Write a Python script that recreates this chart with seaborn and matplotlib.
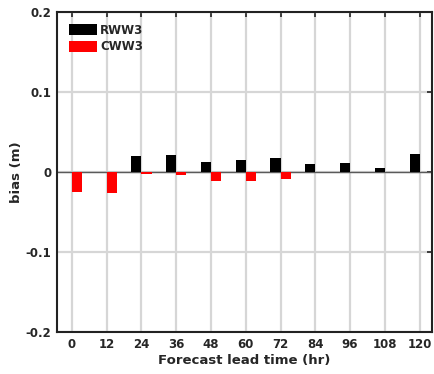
import matplotlib
matplotlib.use('Agg')
import matplotlib.pyplot as plt
import pandas as pd
import seaborn as sns

# Forecast lead times (hr) and bias values
lead_times = [0, 12, 24, 36, 48, 60, 72, 84, 96, 108, 120]
rww3_bias = [0.0, 0.0, 0.020, 0.021, 0.013, 0.015, 0.0175, 0.0095, 0.011, 0.005, 0.023]
cww3_bias = [-0.025, -0.026, -0.003, -0.004, -0.011, -0.011, -0.009, 0.0, 0.0, 0.0, 0.0]
models = ['RWW3', 'CWW3']
y_ticks = [-0.2, -0.1, 0, 0.1, 0.2]
y_tick_labels = ['-0.2', '-0.1', '0', '0.1', '0.2']

df = pd.DataFrame({
    'lead': lead_times * 2,
    'bias': rww3_bias + cww3_bias,
    'model': ['RWW3'] * len(lead_times) + ['CWW3'] * len(lead_times),
})

sns.set_style('white')
plt.rcParams['font.family'] = ['DejaVu Sans']
plt.rcParams['font.weight'] = 'bold'

fig = plt.figure(figsize=(4.34, 3.74), dpi=100)
ax = fig.add_axes([0.131, 0.112, 0.864, 0.856])

# grid lines behind everything
ax.set_axisbelow(True)
ax.grid(True, color='#d6d6d6', linewidth=1.6)
ax.axhline(0, color='#5a5a5a', linewidth=1.0, zorder=1.5)

sns.barplot(data=df, x='lead', y='bias', hue='model', hue_order=models,
            palette={'RWW3': 'black', 'CWW3': 'red'}, native_scale=True,
            width=0.58, saturation=1, errorbar=None, linewidth=0,
            ax=ax, zorder=2)

ax.set_xlim(-5.2, 124.2)
ax.set_ylim(-0.2, 0.2)
ax.set_xticks(lead_times)
ax.set_xticklabels([str(t) for t in lead_times], fontsize=8.5, fontweight='bold')
ax.set_yticks(y_ticks)
ax.set_yticklabels(y_tick_labels, fontsize=8.5, fontweight='bold')
ax.tick_params(direction='in', length=3.5, width=1.2, top=True, right=True,
               color='#222222', pad=4)
ax.set_xlabel('Forecast lead time (hr)', fontsize=9.5, fontweight='bold', labelpad=2.5)
ax.set_ylabel('bias (m)', fontsize=9.5, fontweight='bold', labelpad=2)

for spine in ax.spines.values():
    spine.set_visible(True)
    spine.set_color('#222222')
    spine.set_linewidth(1.5)

leg = ax.legend(title=None, frameon=False, loc='upper left', fontsize=8.5,
                handlelength=2.4, handleheight=1.05, handletextpad=0.25,
                labelspacing=0.3, borderaxespad=0.5, borderpad=0.5)
for txt in leg.get_texts():
    txt.set_fontweight('bold')

fig.savefig('out.png', dpi=100)
